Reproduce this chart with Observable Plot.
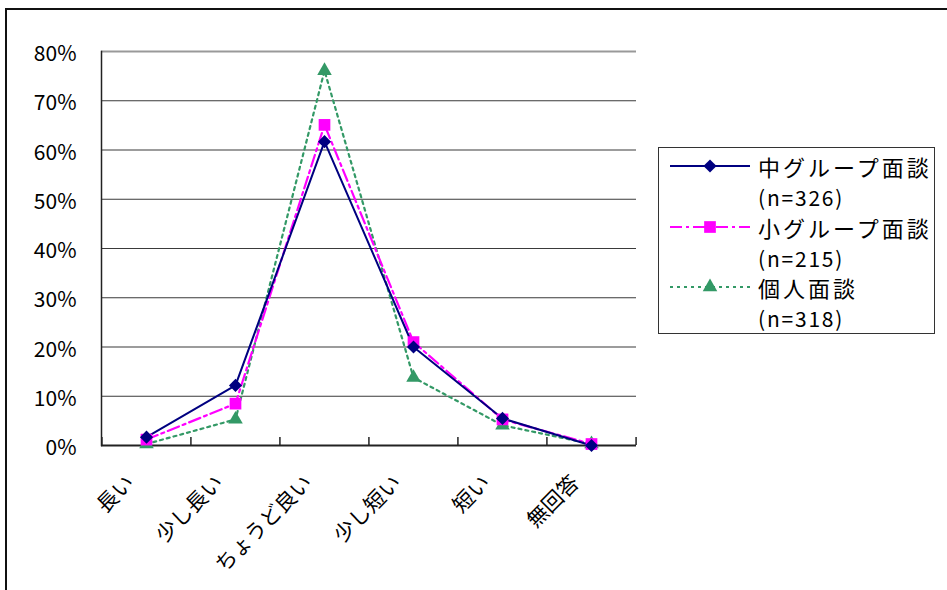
<!DOCTYPE html>
<html>
<head>
<meta charset="utf-8">
<script src="https://cdn.jsdelivr.net/npm/d3@7"></script>
<script src="https://cdn.jsdelivr.net/npm/@observablehq/plot@0.6"></script>
<style>
  html, body { margin: 0; padding: 0; background: #fff; }
  body { width: 947px; height: 590px; position: relative; overflow: hidden;
         font-family: "Noto Sans CJK JP", "Noto Sans", sans-serif; }
  #frameTop { position: absolute; left: 5px; top: 8px; width: 942px; height: 0; border-top: 2px solid #111; }
  #frameLeft { position: absolute; left: 5px; top: 8px; width: 0; height: 582px; border-left: 2px solid #111; }
  #chart { position: absolute; left: 0; top: 0; }
  #legend { position: absolute; left: 658px; top: 147px; width: 275px; height: 185px;
            border: 1px solid #333; background: #fff; }
  .lrow { position: absolute; left: 0; height: 30px; }
  .ltext { position: absolute; left: 99px; font-size: 22px; letter-spacing: 3px; white-space: nowrap; color: #000; line-height: 30px; }
  .lsub { font-size: 21px; letter-spacing: 1.8px; }
</style>
</head>
<body>
<div id="chart"></div>
<div id="frameTop"></div>
<div id="frameLeft"></div>
<div id="legend"></div>
<script>
// ---- data ----
const categories = ["長い", "少し長い", "ちょうど良い", "少し短い", "短い", "無回答"];
const seriesNames = ["中グループ面談", "小グループ面談", "個人面談"];
const seriesN = ["(n=326)", "(n=215)", "(n=318)"];
const chuValues  = [0.017, 0.122, 0.617, 0.200, 0.055, 0.000];
const shoValues  = [0.012, 0.085, 0.651, 0.210, 0.053, 0.003];
const kojinValues = [0.003, 0.053, 0.761, 0.138, 0.041, 0.003];
const yTicks = [0, 0.1, 0.2, 0.3, 0.4, 0.5, 0.6, 0.7, 0.8];

// ---- styles ----
const colors = ["#000080", "#FF00FF", "#339966"];
const dashes = [null, "12,4,3,4", "3,4"];
const symbols = ["diamond2", "square", "triangle"];
const radii = [5.9, 6.6, 5.4];

const allValues = [chuValues, shoValues, kojinValues];
const data = [];
allValues.forEach((vals, s) => vals.forEach((v, i) => data.push({series: seriesNames[s], cat: categories[i], value: v})));

const W = 947, H = 590, mL = 101, mR = 311, mT = 51, mB = 145;
const step = (W - mL - mR) / categories.length;
const font = '"Noto Sans CJK JP", "Noto Sans", sans-serif';

const marks = [
  Plot.ruleY(yTicks.filter(t => t > 0 && t < 0.8), {stroke: "#3a3a3a", strokeWidth: 1.2}),
  Plot.ruleY([0.8], {stroke: "#999", strokeWidth: 2}),
  Plot.ruleY([0], {stroke: "#222", strokeWidth: 2}),
  Plot.frame({anchor: "left", stroke: "#222", strokeWidth: 1.5}),
  Plot.ruleX(categories, {x: d => d, y1: 0, y2: 0.016, dx: -step / 2, stroke: "#222", strokeWidth: 1.5}),
  Plot.ruleX(categories.slice(-1), {x: d => d, y1: 0, y2: 0.016, dx: step / 2, stroke: "#222", strokeWidth: 1.5}),
  Plot.axisY({ticks: yTicks, tickFormat: d3.format(".0%"), tickSize: 0, tickPadding: 25, fontSize: 21, dy: 3, fill: "#000", fontFamily: font, label: null}),
  Plot.axisX({tickRotate: -45, tickSize: 0, tickPadding: 16, fontSize: 21, dx: -16, dy: 18, fill: "#000", fontFamily: font, label: null})
];
// draw series in reverse order so the first series is on top
for (let s = seriesNames.length - 1; s >= 0; s--) {
  const sd = data.filter(d => d.series === seriesNames[s]);
  marks.push(Plot.line(sd, {x: "cat", y: "value", stroke: colors[s], strokeWidth: s === 0 ? 2 : 2.2, strokeDasharray: dashes[s]}));
}
for (let s = seriesNames.length - 1; s >= 0; s--) {
  const sd = data.filter(d => d.series === seriesNames[s]);
  marks.push(Plot.dot(sd, {x: "cat", y: "value", symbol: () => symbols[s], r: radii[s], fill: colors[s], stroke: "none"}));
}

const chart = Plot.plot({
  width: W, height: H,
  marginLeft: mL, marginRight: mR, marginTop: mT, marginBottom: mB,
  style: {fontFamily: font, background: "transparent", overflow: "visible"},
  x: {type: "point", domain: categories, padding: 0.5, axis: null},
  y: {domain: [0, 0.8], axis: null},
  symbol: {type: "identity"},
  marks
});
document.getElementById("chart").appendChild(chart);

// ---- legend ----
const legend = document.getElementById("legend");
const rowTops = [3, 64, 124];
seriesNames.forEach((name, s) => {
  const row = document.createElement("div");
  row.className = "lrow";
  row.style.top = rowTops[s] + "px";
  row.style.width = "275px";
  const svg = d3.create("svg").attr("width", 95).attr("height", 30).style("position", "absolute").style("left", "0px").style("top", "0px");
  svg.append("line").attr("x1", 11).attr("x2", 91).attr("y1", 15).attr("y2", 15)
    .attr("stroke", colors[s]).attr("stroke-width", s === 0 ? 2 : 2.2).attr("stroke-dasharray", dashes[s]);
  const sym = {diamond2: d3.symbolDiamond2, square: d3.symbolSquare, triangle: d3.symbolTriangle}[symbols[s]];
  svg.append("path").attr("transform", "translate(51,15)")
    .attr("d", d3.symbol(sym, radii[s] * radii[s] * Math.PI)()).attr("fill", colors[s]);
  row.appendChild(svg.node());
  const t = document.createElement("div");
  t.className = "ltext"; t.textContent = name; t.style.top = "0px";
  row.appendChild(t);
  legend.appendChild(row);
  const sub = document.createElement("div");
  sub.className = "ltext lsub"; sub.textContent = seriesN[s];
  sub.style.top = (rowTops[s] + 31) + "px";
  legend.appendChild(sub);
});
</script>
</body>
</html>
